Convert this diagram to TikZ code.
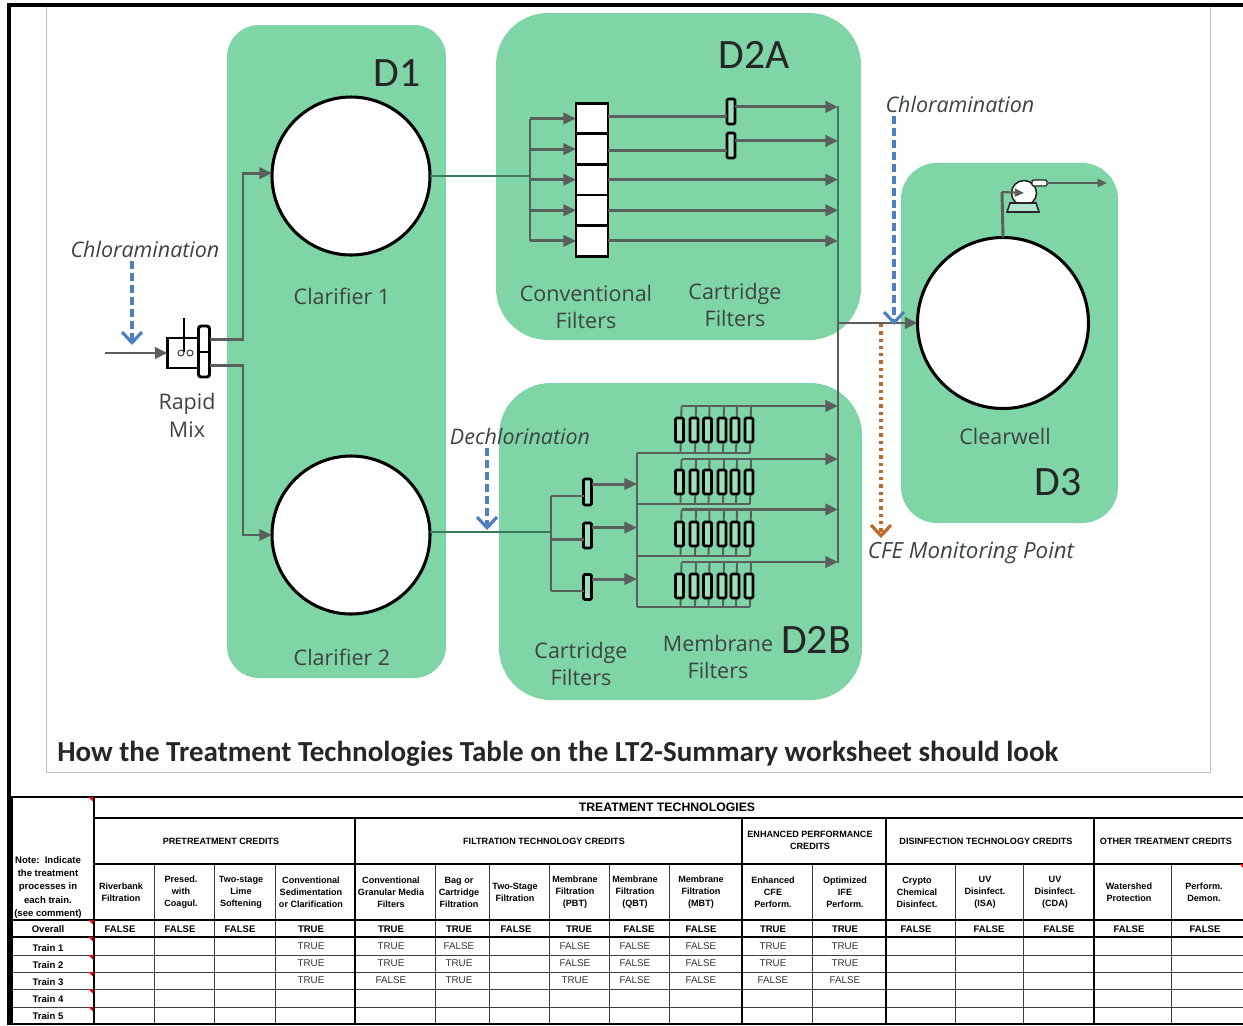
\documentclass[tikz,border=0pt]{standalone}
\usepackage{fontspec}
\setmainfont{Open Sans}
\newfontfamily\tabfont{Liberation Sans}
\newfontfamily\capfont{Carlito}
\usetikzlibrary{arrows.meta,positioning,calc}
\definecolor{panelG}{HTML}{7FD5A6}
\definecolor{pipeC}{HTML}{595F5B}
\definecolor{pipeD}{HTML}{3A7A5C}
\definecolor{chlorC}{HTML}{4F7FC0}
\definecolor{cfeC}{HTML}{C0682A}
\definecolor{labC}{HTML}{3C4440}
\newcommand{\px}{0.0265cm}
\tikzset{
  panel/.style={rectangle, fill=panelG, rounded corners=#1*\px},
  basin/.style={circle, draw=black, fill=white, line width=2.3pt, inner sep=0pt, outer sep=0pt, minimum size=#1*\px},
  filtbox/.style={rectangle, draw=black, fill=white, line width=2.2pt, inner sep=0pt, outer sep=0pt,
                  minimum width=32*\px, minimum height=30.6*\px},
  cartbox/.style={rectangle, rounded corners=1pt, draw=black, fill=panelG!75!white, line width=2pt, inner sep=0pt,
                  outer sep=0pt, minimum width=8*\px, minimum height=#1*\px},
  pipe/.style={line width=2.2pt, draw=pipeC},
  pipeg/.style={line width=1.8pt, draw=pipeD},
  arr/.style={-{Triangle[length=9.5pt,width=8.5pt]}, line width=2.2pt, draw=pipeC},
  chem/.style={-{Straight Barb[length=8pt,width=15pt,line width=2.4pt]}, line width=2.3pt, draw=chlorC, dash pattern=on 6pt off 3pt},
  cfe/.style={-{Straight Barb[length=8pt,width=15pt,line width=2.4pt]}, line width=2.3pt, draw=cfeC, dash pattern=on 2.5pt off 3pt},
  lab/.style={align=center, text=labC, inner sep=0pt, font=\fontsize{16.2}{21}\selectfont},
  chemlab/.style={inner sep=0pt, text=labC, font=\fontsize{#1}{19}\selectfont\itshape},
  chemlab/.default=16.2,
  zone/.style={inner sep=0pt, text=black!85, font=\capfont\fontsize{31.5}{32}\selectfont},
  thead/.style={align=center, inner sep=0pt, font=\tabfont\bfseries\fontsize{6.85}{9}\selectfont},
  thbig/.style={align=center, inner sep=0pt, font=\tabfont\bfseries\fontsize{9.25}{11}\selectfont},
  tval/.style={inner sep=0pt, text=black!80, font=\tabfont\fontsize{7.4}{9}\selectfont},
  tbold/.style={inner sep=0pt, font=\tabfont\bfseries\fontsize{7.2}{9}\selectfont},
  rulehv/.style={line width=1.7pt, draw=black},
  rulelt/.style={line width=0.75pt, draw=black!75},
}
\begin{document}
\begin{tikzpicture}[x=\px,y=-\px]
  \useasboundingbox (0,0) rectangle (1243,1025);
  % frames
  \draw[line width=0.75pt, draw=black!25] (46,5) -- (46,772) -- (1210,772) -- (1210,5);
  \draw[line width=2.4pt] (1243,5) -- (9,5) -- (9,1025);
  % panels
  \fill[panel=32] (227,25) rectangle (446,678);
  \fill[panel=52] (496,13) rectangle (861,340);
  \fill[panel=52] (499,383) rectangle (862,700);
  \fill[panel=36] (901,163) rectangle (1118,523);
  % zones
  \node[zone] (zoneA) at (397,73) {D1};
  \node[zone] (zoneB) at (754,55) {D2A};
  \node[zone] (zoneC) at (816,640) {D2B};
  \node[zone] (zoneD) at (1058,482) {D3};
  % basins
  \node[basin=158] (clarA) at (351,176) {};
  \node[basin=158] (clarB) at (351,535) {};
  \node[basin=171] (clearW) at (1003,323) {};
  \node[lab] (clarAlab) at (342,296) {Clarifier 1};
  \node[lab] (clarBlab) at (342,657) {Clarifier 2};
  \node[lab] (clearlab) at (1005,436) {Clearwell};
  % rapid mix
  \node[rectangle, draw=black, fill=white, line width=2.2pt, inner sep=0pt, outer sep=0pt, minimum width=31*\px, minimum height=30*\px] (rapidtank) at (183,353) {};
  \node[rectangle, rounded corners=2pt, draw=black, fill=white, line width=2.2pt, inner sep=0pt, outer sep=0pt, minimum width=11*\px, minimum height=51*\px] (rapidbar) at (204,351.5) {};
  \draw[line width=1.5pt] (rapidbar.west) -- (rapidbar.east);
  \coordinate (shaftT) at (184,318);
  \coordinate (shaftB) at (184,352);
  \draw[line width=1.5pt] (shaftT) -- (shaftB);
  \node[circle, draw=black!80, line width=0.7pt, inner sep=0pt, minimum size=6*\px] (impA) at (181,353) {};
  \node[circle, draw=black!80, line width=0.7pt, inner sep=0pt, minimum size=6*\px] (impB) at (190,353) {};
  \node[lab] (rapidlab) at (187,415) {Rapid\\Mix};
  \coordinate (inlet) at (105,353);
  \draw[arr] (inlet) -- (rapidtank.west);
  \coordinate (riseR) at (243,340);
  \coordinate (outU) at ([yshift=9pt]rapidbar.east);
  \coordinate (outL) at ([yshift=-10.5pt]rapidbar.east);
  \coordinate (clarAin) at ([yshift=2.2pt]clarA.west);
  \draw[arr] (outU) -- (outU -| riseR) -- (riseR |- clarAin) -- (clarAin);
  \draw[arr] (outL) -- (outL -| riseR) -- (riseR |- clarB) -- (clarB.west);
  % conventional filters
  \node[filtbox] (conv1) at (592,118.5) {};
  \node[filtbox, below=0pt of conv1] (conv2) {};
  \node[filtbox, below=0pt of conv2] (conv3) {};
  \node[filtbox, below=0pt of conv3] (conv4) {};
  \node[filtbox, below=0pt of conv4] (conv5) {};
  \coordinate (manA) at (530,175);
  \coordinate (collT) at (838,106);
  \coordinate (collB) at (838,563);
  \coordinate (collJ) at (838,323);
  \draw[pipeg] (clarA.east) -- (clarA.east -| manA);
  \draw[pipe] (conv1.west -| manA) -- (conv5.west -| manA);
  \foreach \i in {1,...,5}{
    \draw[arr] (conv\i.west -| manA) -- (conv\i.west);
  }
  \foreach \i in {3,4,5}{
    \draw[arr] (conv\i.east) -- (conv\i.east -| collT);
  }
  % cartridge filters D2A
  \node[cartbox=25] (cartA1) at (731,111.5) {};
  \node[cartbox=25] (cartA2) at (731,145.5) {};
  \foreach \i in {1,2}{
    \coordinate (cartAin\i) at ([yshift=-3.7pt]cartA\i.west);
    \coordinate (cartAout\i) at ([yshift=3.5pt]cartA\i.east);
    \draw[pipe] (cartAin\i -| conv\i.east) -- (cartAin\i);
    \draw[arr] (cartAout\i) -- (cartAout\i -| collT);
  }
  \node[lab] (convlab) at (586,307) {Conventional\\Filters};
  \node[lab] (cartAlab) at (735,305) {Cartridge\\Filters};
  % cartridge filters D2B
  \node[cartbox=26] (cartB1) at (587.5,492) {};
  \node[cartbox=25] (cartB2) at (587.5,535.5) {};
  \node[cartbox=25] (cartB3) at (587.5,587) {};
  \coordinate (manB) at (551,532);
  \coordinate (busB) at (637,532);
  \draw[pipeg] (manB -| clarB.east) -- (manB);
  \foreach \i in {1,2,3}{
    \coordinate (cartBin\i) at ([yshift=-3pt]cartB\i.west);
    \coordinate (cartBout\i) at ([yshift=6pt]cartB\i.east);
    \draw[pipe] (cartBin\i -| manB) -- (cartBin\i);
    \draw[arr] (cartBout\i) -- (cartBout\i -| busB);
  }
  \draw[pipe] (cartBin1 -| manB) -- (cartBin3 -| manB);
  % membrane racks
  \foreach \r/\yc/\ytop/\ybot in {1/430/406/453, 2/482/459/504, 3/534/509.5/556, 4/586/562/607}{
    \foreach \c/\xc in {1/679.5, 2/694, 3/707.5, 4/722, 5/735, 6/749}{
      \coordinate (tp\r\c) at (\xc+2,\ytop);
      \coordinate (bt\r\c) at (\xc+1,\ybot);
      \draw[line width=1.4pt, draw=pipeC] (tp\r\c) -- (bt\r\c);
      \node[cartbox=24] (memb\r\c) at (\xc,\yc) {};
    }
    \draw[pipe] (bt\r6 -| busB) -- (bt\r6);
    \draw[arr] (tp\r1) -- (tp\r1 -| collT);
  }
  \draw[pipe] (bt16 -| busB) -- (bt46 -| busB);
  \node[lab] (cartBlab) at (581,664) {Cartridge\\Filters};
  \node[lab] (memblab) at (718,657) {Membrane\\Filters};
  % collector
  \draw[pipeg] (collT) -- (collJ);
  \draw[pipe] (collJ) -- (collB);
  \draw[arr] (collJ) -- (clearW.west);
  % pump
  \node[circle, draw=black!85, fill=white, line width=1.2pt, inner sep=0pt, minimum size=25*\px] (pump) at (1024,193) {};
  \node[rectangle, rounded corners=1pt, draw=black!85, fill=white, line width=1pt, inner sep=0pt, minimum width=15*\px, minimum height=6*\px] (pumpout) at (1039.5,183) {};
  \draw[draw=black!85, fill=panelG!60!white, line width=1.2pt] (1010,203) -- (1036,203) -- (1039,212) -- (1007,212) -- cycle;
  \coordinate (pumpin) at (1002,192);
  \coordinate (pumpend) at (1107,183);
  \draw[pipe] (clearW.north) -- (pumpin);
  \draw[-{Triangle[length=7pt,width=6pt]}, line width=1.6pt, draw=pipeC] (pumpin) -- (pump.center);
  \draw[-{Triangle[length=7pt,width=6pt]}, line width=1.6pt, draw=pipeC] (pumpout.east) -- (pumpend);
  % chemicals
  \node[chemlab] (chlorAlab) at (145,249) {Chloramination};
  \node[chemlab] (chlorBlab) at (960,104) {Chloramination};
  \node[chemlab] (dechlab) at (520,436) {Dechlorination};
  \node[chemlab=16.8] (cfelab) at (971,553) {CFE Monitoring Point};
  \coordinate (chemAs) at (132,261);
  \coordinate (chemAe) at (132,345);
  \coordinate (chemBs) at (894,116);
  \coordinate (chemBe) at (894,325);
  \coordinate (chemCs) at (487,448);
  \coordinate (chemCe) at (487,530);
  \coordinate (cfes) at (881,324);
  \coordinate (cfee) at (881,538);
  \draw[cfe] (cfes) -- (cfee);
  \draw[chem] (chemAs) -- (chemAe);
  \draw[chem] (chemBs) -- (chemBe);
  \draw[chem] (chemCs) -- (chemCe);
  % title
  \node[anchor=west, inner sep=0pt, text=black!85, font=\capfont\bfseries\fontsize{21.9}{24}\selectfont] (title) at (57,754) {How the Treatment Technologies Table on the LT2-Summary worksheet should look};
  % table grid
  \foreach \y in {955,972,989,1007}{
    \draw[rulelt] (10,\y) -- (1243,\y);
  }
  \foreach \x in {154,214,275,435,489,549,609,669,812,955,1023,1171}{
    \draw[rulelt] (\x,864) -- (\x,1025);
  }
  \draw[rulehv] (10,797) -- (1243,797);
  \draw[rulehv] (94,818) -- (1243,818);
  \draw[rulehv] (94,864) -- (1243,864);
  \draw[rulehv] (10,920) -- (1243,920);
  \draw[rulehv] (10,937) -- (1243,937);
  \draw[rulehv] (10,1024) -- (1243,1024);
  \draw[rulehv] (11.5,797) -- (11.5,1025);
  \draw[rulehv] (94,797) -- (94,1025);
  \foreach \x in {355,742,886,1094}{
    \draw[rulehv] (\x,818) -- (\x,1025);
  }
  \foreach \y in {797,920,937,955,972,989,1007}{
    \fill[red] (93,\y) -- (88.5,\y) -- (93,\y+4.5) -- cycle;
  }
  \fill[red] (1243,864) -- (1240,864) -- (1243,868) -- cycle;
  % table heads
  \node[thbig] (headT) at (667,807) {TREATMENT TECHNOLOGIES};
  \node[thead] (headA) at (221,841) {PRETREATMENT CREDITS};
  \node[thead] (headB) at (544,841) {FILTRATION TECHNOLOGY CREDITS};
  \node[thead] (headC) at (810,840) {ENHANCED PERFORMANCE\\CREDITS};
  \node[thead] (headD) at (986,841) {DISINFECTION TECHNOLOGY CREDITS};
  \node[thead] (headE) at (1166,841) {OTHER TREATMENT CREDITS};
  \node[thead, font=\tabfont\bfseries\fontsize{7.2}{9.9}\selectfont] (noteC) at (48,887.5) {Note:\ \ Indicate\\the treatment\\processes in\\each train.\\(see comment)};
  \foreach \x/\nm/\txt in {121/a/Riverbank\\Filtration, 181/b/Presed.\\with\\Coagul., 241/c/Two-stage\\Lime\\Softening,
      311/d/Conventional\\Sedimentation\\or Clarification, 391/e/Conventional\\Granular Media\\Filters,
      459/f/Bag or\\Cartridge\\Filtration, 515/g/Two-Stage\\Filtration, 575/h/Membrane\\Filtration\\(PBT),
      635/i/Membrane\\Filtration\\(QBT), 701/j/Membrane\\Filtration\\(MBT), 773/k/Enhanced\\CFE\\Perform.,
      845/l/Optimized\\IFE\\Perform., 917/m/Crypto\\Chemical\\Disinfect., 985/n/UV\\Disinfect.\\(ISA),
      1055/o/UV\\Disinfect.\\(CDA), 1129/p/Watershed\\Protection, 1204/q/Perform.\\Demon.}{
    \node[thead] (col\nm) at (\x,892.5) {\txt};
  }
  % table rows
  \node[tbold] (rowO) at (48,929.5) {Overall};
  \foreach \i/\y in {1/948.5,2/965.5,3/982.5,4/999.5,5/1016.5}{
    \node[tbold] (rowT\i) at (48,\y) {Train \i};
  }
  \foreach \nm/\x/\val in {a/120/FALSE, b/180/FALSE, c/240/FALSE, d/311/TRUE, e/391/TRUE, f/459/TRUE, g/516/FALSE, h/579/TRUE,
      i/639/FALSE, j/701/FALSE, k/773/TRUE, l/845/TRUE, m/916/FALSE, n/989/FALSE, o/1059/FALSE, p/1129/FALSE, q/1205/FALSE}{
    \node[tbold] (ovr\nm) at (\x,929) {\val};
  }
  \foreach \nm/\x/\p/\q/\r in {d/311/TRUE/TRUE/TRUE, e/391/TRUE/TRUE/FALSE, f/459/FALSE/TRUE/TRUE, h/575/FALSE/FALSE/TRUE,
      i/635/FALSE/FALSE/FALSE, j/701/FALSE/FALSE/FALSE, k/773/TRUE/TRUE/FALSE, l/845/TRUE/TRUE/FALSE}{
    \node[tval] (trA\nm) at (\x,946) {\p};
    \node[tval] (trB\nm) at (\x,963) {\q};
    \node[tval] (trC\nm) at (\x,980.5) {\r};
  }
\end{tikzpicture}
\end{document}
